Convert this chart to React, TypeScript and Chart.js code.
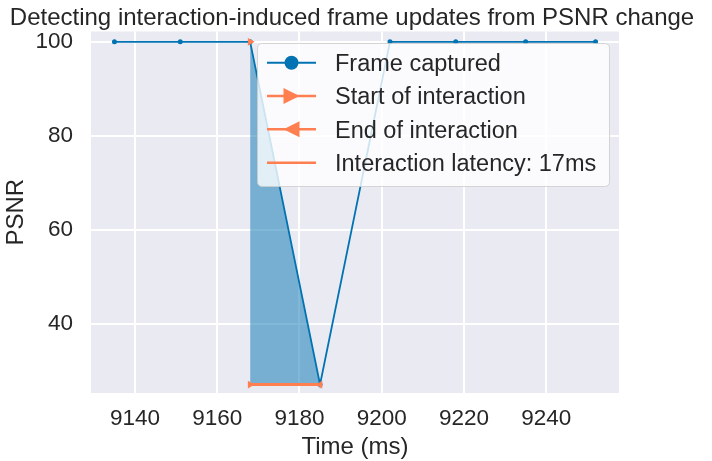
import React, { useEffect, useRef } from "react";
import { Chart, registerables } from "chart.js";

Chart.register(...registerables);

// ---- data ----
const frameTimes = [9135, 9151, 9168, 9185, 9202, 9218, 9235, 9252];
const framePsnr = [100, 100, 100, 27, 100, 100, 100, 100];
const startTimes = [9168, 9168];
const startPsnr = [100, 27];
const endTimes = [9185];
const endPsnr = [27];
const latencyTimes = [9168, 9185];
const latencyPsnr = [27, 27];
const fillTimes = [9168, 9185];
const fillPsnr = [100, 27];
const fillBase = 27;
const xTicks = [9140, 9160, 9180, 9200, 9220, 9240];
const yTicks = [40, 60, 80, 100];
const legendLabels = [
  "Frame captured",
  "Start of interaction",
  "End of interaction",
  "Interaction latency: 17ms",
];
const titleText = "Detecting interaction-induced frame updates from PSNR change";
const xTitle = "Time (ms)";
const yTitle = "PSNR";

// ---- styles ----
const FONT = "'Liberation Sans', Arial, sans-serif";
const BLUE = "#0173b2";
const ORANGE = "#ff7f50";
const TEXT = "#262626";
const BG = "#eaeaf2";

function drawTri(ctx: CanvasRenderingContext2D, cx: number, cy: number, h: number, dir: "right" | "left") {
  ctx.beginPath();
  if (dir === "right") {
    ctx.moveTo(cx + h, cy);
    ctx.lineTo(cx - h, cy - h);
    ctx.lineTo(cx - h, cy + h);
  } else {
    ctx.moveTo(cx - h, cy);
    ctx.lineTo(cx + h, cy - h);
    ctx.lineTo(cx + h, cy + h);
  }
  ctx.closePath();
  ctx.fill();
}

const bgPlugin = {
  id: "bgPlugin",
  beforeDraw(chart: any) {
    const { ctx, chartArea } = chart;
    ctx.save();
    ctx.fillStyle = BG;
    ctx.fillRect(chartArea.left, chartArea.top, chartArea.right - chartArea.left, chartArea.bottom - chartArea.top);
    ctx.restore();
  },
};

const overlayPlugin = {
  id: "overlayPlugin",
  afterDraw(chart: any) {
    const { ctx } = chart;
    ctx.save();
    // title
    ctx.fillStyle = TEXT;
    ctx.font = `24px ${FONT}`;
    ctx.textAlign = "center";
    ctx.textBaseline = "alphabetic";
    ctx.fillText(titleText, 352, 25);

    // legend box
    const bx = 257.5, by = 43.5, bw = 352, bh = 143, r = 5;
    ctx.beginPath();
    ctx.moveTo(bx + r, by);
    ctx.lineTo(bx + bw - r, by);
    ctx.quadraticCurveTo(bx + bw, by, bx + bw, by + r);
    ctx.lineTo(bx + bw, by + bh - r);
    ctx.quadraticCurveTo(bx + bw, by + bh, bx + bw - r, by + bh);
    ctx.lineTo(bx + r, by + bh);
    ctx.quadraticCurveTo(bx, by + bh, bx, by + bh - r);
    ctx.lineTo(bx, by + r);
    ctx.quadraticCurveTo(bx, by, bx + r, by);
    ctx.closePath();
    ctx.fillStyle = "rgba(255,255,255,0.8)";
    ctx.fill();
    ctx.strokeStyle = "rgba(204,204,204,0.8)";
    ctx.lineWidth = 1;
    ctx.stroke();

    const rows = [62.7, 96, 129.3, 162.7];
    const x0 = 267, x1 = 316, mx = 291.5;
    legendLabels.forEach((label, i) => {
      const y = rows[i];
      ctx.strokeStyle = i === 0 ? BLUE : ORANGE;
      ctx.lineWidth = i === 0 ? 2 : 2.5;
      ctx.beginPath();
      ctx.moveTo(x0, y);
      ctx.lineTo(x1, y);
      ctx.stroke();
      if (i === 0) {
        ctx.fillStyle = BLUE;
        ctx.beginPath();
        ctx.arc(mx, y, 7, 0, Math.PI * 2);
        ctx.fill();
      } else if (i === 1) {
        ctx.fillStyle = ORANGE;
        drawTri(ctx, mx, y, 8, "right");
      } else if (i === 2) {
        ctx.fillStyle = ORANGE;
        drawTri(ctx, mx, y, 8, "left");
      }
      ctx.fillStyle = TEXT;
      ctx.font = `23.5px ${FONT}`;
      ctx.textAlign = "left";
      ctx.textBaseline = "alphabetic";
      ctx.fillText(label, 335, y + 8.3);
    });
    ctx.restore();
  },
};

export default function App() {
  const ref = useRef<HTMLCanvasElement>(null);

  useEffect(() => {
    if (!ref.current) return;
    const pts = (xs: number[], ys: number[]) => xs.map((x, i) => ({ x, y: ys[i] }));

    const chart = new Chart(ref.current, {
      type: "line",
      data: {
        datasets: [
          {
            label: legendLabels[1],
            data: pts(startTimes, startPsnr),
            showLine: false,
            pointStyle: "triangle",
            pointRotation: 90,
            pointRadius: 4.5,
            pointBorderWidth: 0,
            borderColor: ORANGE,
            backgroundColor: ORANGE,
          },
          {
            label: legendLabels[2],
            data: pts(endTimes, endPsnr),
            showLine: false,
            pointStyle: "triangle",
            pointRotation: -90,
            pointRadius: 4.5,
            pointBorderWidth: 0,
            borderColor: ORANGE,
            backgroundColor: ORANGE,
          },
          {
            label: legendLabels[3],
            data: pts(latencyTimes, latencyPsnr),
            borderColor: ORANGE,
            borderWidth: 3,
            pointRadius: 0,
            fill: false,
          },
          {
            label: legendLabels[0],
            data: pts(frameTimes, framePsnr),
            borderColor: BLUE,
            backgroundColor: BLUE,
            borderWidth: 1.8,
            pointRadius: 2.5,
            pointBorderWidth: 0,
            pointBackgroundColor: BLUE,
            fill: false,
          },
          {
            label: "fill",
            data: pts(fillTimes, fillPsnr),
            borderWidth: 0,
            borderColor: "rgba(0,0,0,0)",
            pointRadius: 0,
            backgroundColor: "rgba(1,115,178,0.5)",
            fill: { value: fillBase } as any,
          },
        ],
      },
      options: {
        animation: false,
        responsive: false,
        devicePixelRatio: 1,
        layout: { padding: { top: 31, right: 93, left: 0, bottom: 0 } },
        plugins: {
          legend: { display: false },
          title: { display: false },
          tooltip: { enabled: false },
        },
        scales: {
          x: {
            type: "linear",
            min: 9129.3,
            max: 9257.7,
            afterBuildTicks: (s: any) => {
              s.ticks = xTicks.map((v) => ({ value: v }));
            },
            afterFit: (s: any) => {
              s.height = 68;
            },
            grid: { color: "#ffffff", lineWidth: 2, drawTicks: false },
            border: { display: false },
            ticks: {
              padding: 12,
              color: TEXT,
              font: { family: FONT, size: 22.5 },
              maxRotation: 0,
              autoSkip: false,
              callback: (v: any) => String(v),
            },
            title: {
              display: true,
              text: xTitle,
              color: TEXT,
              font: { family: FONT, size: 24 },
              padding: { top: 0, bottom: -1 },
            },
          },
          y: {
            type: "linear",
            min: 25.2,
            max: 102.2,
            afterBuildTicks: (s: any) => {
              s.ticks = yTicks.map((v) => ({ value: v }));
            },
            afterFit: (s: any) => {
              s.width = 91;
            },
            grid: { color: "#ffffff", lineWidth: 2, drawTicks: false },
            border: { display: false },
            ticks: {
              padding: 18,
              color: TEXT,
              font: { family: FONT, size: 22.5 },
              callback: (v: any) => String(v),
            },
            title: {
              display: true,
              text: yTitle,
              color: TEXT,
              font: { family: FONT, size: 24 },
              padding: { top: 2, bottom: 0 },
            },
          },
        },
      },
      plugins: [bgPlugin, overlayPlugin],
    });
    return () => chart.destroy();
  }, []);

  return (
    <div style={{ position: "absolute", left: 0, top: 0, width: 712, height: 461, background: "#fff" }}>
      <canvas ref={ref} width={712} height={461} style={{ display: "block", width: 712, height: 461 }} />
    </div>
  );
}
